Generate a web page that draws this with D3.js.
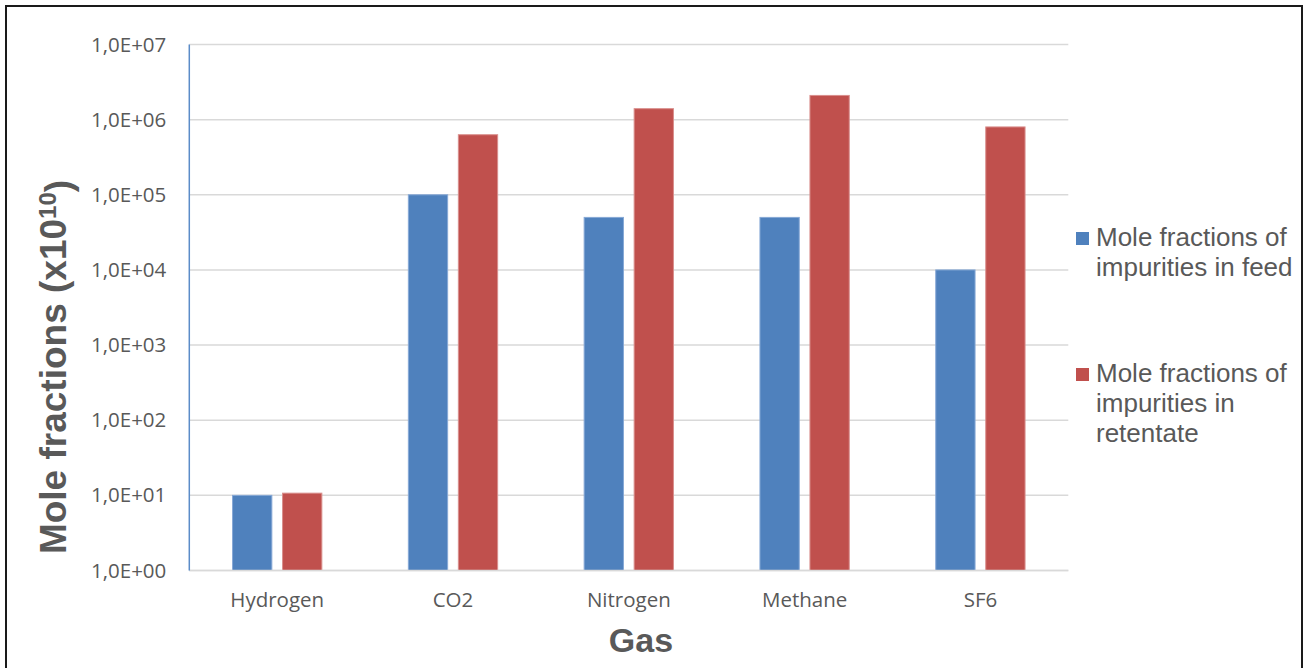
<!DOCTYPE html>
<html>
<head>
<meta charset="utf-8">
<script src="https://cdn.jsdelivr.net/npm/d3@7"></script>
<style>
  html, body { margin: 0; padding: 0; background: #fff; }
  svg { display: block; }
</style>
</head>
<body>
<svg id="chart" width="1309" height="668"></svg>
<script>
// Gas species on the x axis
const gases = ["Hydrogen", "CO2", "Nitrogen", "Methane", "SF6"];
// Series names (legend text, split into lines)
const seriesNames = [
  ["Mole fractions of", "impurities in feed"],
  ["Mole fractions of", "impurities in", "retentate"]
];
// Mole fractions (x10^10)
const feedValues = [10, 1.0e5, 5.0e4, 5.0e4, 1.0e4];
const retentateValues = [10.7, 6.3e5, 1.4e6, 2.1e6, 8.0e5];
// Decade ticks on the log axis
const yTicks = [1, 10, 100, 1e3, 1e4, 1e5, 1e6, 1e7];

const seriesColors = ["#4F81BD", "#C0504D"];
const seriesStrokes = ["#86A8D6", "#D98F8D"];

const svg = d3.select("#chart");

const plot = { left: 189.3, right: 1068.3, top: 44.5, bottom: 570.5 };

const x0 = d3.scaleBand().domain(gases).range([plot.left, plot.right]).padding(0);
const x1 = d3.scaleBand().domain([0, 1]).range([0, x0.bandwidth()])
  .paddingInner(0.214).paddingOuter(0.865);
const y = d3.scaleLog().domain([1, 1e7]).range([plot.bottom, plot.top]);

// outer frame
svg.append("rect")
  .attr("x", 6).attr("y", 6).attr("width", 1296).attr("height", 680)
  .attr("fill", "none").attr("stroke", "#1a1a1a").attr("stroke-width", 2);

// horizontal gridlines
svg.append("g").selectAll("line").data(yTicks).join("line")
  .attr("x1", plot.left).attr("x2", plot.right)
  .attr("y1", d => y(d)).attr("y2", d => y(d))
  .attr("stroke", "#D9D9D9").attr("stroke-width", 1.5);

// y tick labels
const fmt = d => "1,0E+" + String(Math.round(Math.log10(d))).padStart(2, "0");
const yAxis = d3.axisLeft(y).tickValues(yTicks).tickFormat(fmt).tickSize(0).tickPadding(23);
const gy = svg.append("g").attr("transform", `translate(${plot.left},0)`).call(yAxis);
gy.select(".domain").remove();
gy.selectAll("text")
  .attr("fill", "#595959")
  .style("font-family", "'Open Sans', sans-serif")
  .style("font-size", "20.5px");

// bars
const series = [feedValues, retentateValues];
const groups = svg.append("g").selectAll("g").data(gases).join("g")
  .attr("transform", d => `translate(${x0(d)},0)`);
groups.selectAll("rect")
  .data((g, i) => series.map((vals, s) => ({ s, v: vals[i] })))
  .join("rect")
  .attr("x", d => x1(d.s))
  .attr("width", x1.bandwidth())
  .attr("y", d => y(d.v))
  .attr("height", d => y(1) - y(d.v))
  .attr("fill", d => seriesColors[d.s])
  .attr("stroke", d => seriesStrokes[d.s])
  .attr("stroke-width", 1);

// x axis baseline
svg.append("line")
  .attr("x1", plot.left).attr("x2", plot.right)
  .attr("y1", y(1)).attr("y2", y(1))
  .attr("stroke", "#D9D9D9").attr("stroke-width", 1.5);

// y axis line
svg.append("line")
  .attr("x1", plot.left).attr("x2", plot.left)
  .attr("y1", plot.top).attr("y2", plot.bottom)
  .attr("stroke", "#5B8CC8").attr("stroke-width", 1.5);

// category labels
const xAxis = d3.axisBottom(x0).tickSize(0).tickPadding(22);
const gx = svg.append("g").attr("transform", `translate(0,${plot.bottom})`).call(xAxis);
gx.select(".domain").remove();
gx.selectAll("text")
  .attr("fill", "#595959")
  .style("font-family", "'Open Sans', sans-serif")
  .style("font-size", "20.5px");

// axis titles
svg.append("text")
  .attr("x", 641).attr("y", 652)
  .attr("text-anchor", "middle")
  .attr("fill", "#595959")
  .style("font-family", "'Liberation Sans', Arial, sans-serif")
  .style("font-weight", "bold")
  .style("font-size", "34px")
  .text("Gas");

const yTitle = svg.append("text")
  .attr("transform", "translate(66,367) rotate(-90)")
  .attr("text-anchor", "middle")
  .attr("fill", "#595959")
  .style("font-family", "'Liberation Sans', Arial, sans-serif")
  .style("font-weight", "bold")
  .style("font-size", "37px");
yTitle.append("tspan").text("Mole fractions (x10");
yTitle.append("tspan").attr("dy", "-0.42em").style("font-size", "24px").text("10");
yTitle.append("tspan").attr("dy", "0.42em").text(")");

// legend
const legendTop = [246, 382];
const legend = svg.append("g").selectAll("g").data(seriesNames).join("g")
  .attr("transform", (d, i) => `translate(1076,${legendTop[i]})`);
legend.append("rect")
  .attr("x", 0).attr("y", -14).attr("width", 13).attr("height", 13)
  .attr("fill", (d, i) => seriesColors[i]);
legend.append("text")
  .attr("fill", "#595959")
  .style("font-family", "'Liberation Sans', Arial, sans-serif")
  .style("font-size", "26px")
  .selectAll("tspan").data(d => d).join("tspan")
  .attr("x", 20).attr("y", (d, j) => j * 30)
  .text(d => d);
</script>
</body>
</html>
